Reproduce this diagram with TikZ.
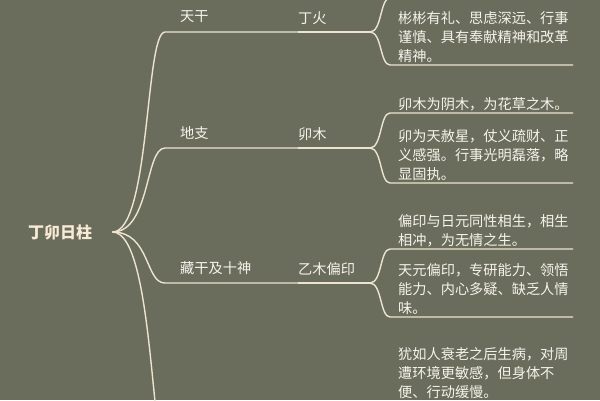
\documentclass[tikz,border=0pt]{standalone}
\usepackage{fontspec}
\setmainfont{Noto Sans CJK SC}
\usetikzlibrary{positioning}

\definecolor{bgcol}{RGB}{107,109,92}
\definecolor{linecol}{RGB}{236,228,206}
\definecolor{txtcol}{RGB}{246,243,236}
\definecolor{rootcol}{RGB}{248,234,212}

\begin{document}
\begin{tikzpicture}[x=1pt,y=-1pt,
	branch/.style={draw=linecol,line width=1.4pt},
	lbl/.style={text=txtcol,font=\fontsize{14.2}{19}\selectfont,inner sep=0pt,anchor=west},
	desc/.style={lbl,align=left,anchor=south west}]

\useasboundingbox (0,0) rectangle (600,400);
\fill [bgcol] (0,0) rectangle (600,400);
\clip (0,0) rectangle (600,400);

\node [lbl,text=rootcol,font=\fontsize{16}{16}\selectfont\bfseries] (root) at (28,232) {丁卯日柱};
\coordinate [right=20pt of root.east] (rp);

\foreach \n/\y/\t in {tg/32/天干,dz/148/地支,cg/283/藏干及十神} {
	\coordinate (\n-a) at (165,\y);
	\coordinate (\n-b) at (298,\y);
	\node [lbl] (\n) at (180,\y-15) {\t};
	\draw [branch] (rp) .. controls +(38,0) and +(-20,0) .. (\n-a) -- (\n-b);
}

\coordinate (bq) at (170,470);
\draw [branch] (rp) .. controls +(43,0) and +(-20,0) .. (bq);

\foreach \p/\n/\y/\t in {tg/dh/32/丁火,dz/mm/148/卯木,cg/ym/283/乙木偏印} {
	\coordinate (\n-a) at (370,\y);
	\node [lbl] (\n) at (298,\y-14) {\t};
	\draw [branch] (\p-b) -- (\n-a);
}

\foreach \p/\c/\y in {dh/d0/-2,dh/d1/65,mm/d2/113,mm/d3/183,ym/d4/249,ym/d5/317} {
	\coordinate (\c-a) at (390,\y);
	\coordinate (\c-b) at (573,\y);
	\draw [branch] (\p-a) .. controls +(12,0) and +(-10,0) .. (\c-a) -- (\c-b);
}

\node [desc,above right=2pt and 8pt of d1-a] (t1) {彬彬有礼、思虑深远、行事\\谨慎、具有奉献精神和改革\\精神。};
\node [desc,above right=2pt and 8pt of d2-a] (t2) {卯木为阴木，为花草之木。};
\node [desc,above right=2pt and 8pt of d3-a] (t3) {卯为天赦星，仗义疏财、正\\义感强。行事光明磊落，略\\显固执。};
\node [desc,above right=2pt and 8pt of d4-a] (t4) {偏印与日元同性相生，相生\\相冲，为无情之生。};
\node [desc,above right=2pt and 8pt of d5-a] (t5) {天元偏印，专研能力、领悟\\能力、内心多疑、缺乏人情\\味。};
\node [desc] (t6) at (398,399) {犹如人衰老之后生病，对周\\遭环境更敏感，但身体不\\便、行动缓慢。};

\end{tikzpicture}
\end{document}
